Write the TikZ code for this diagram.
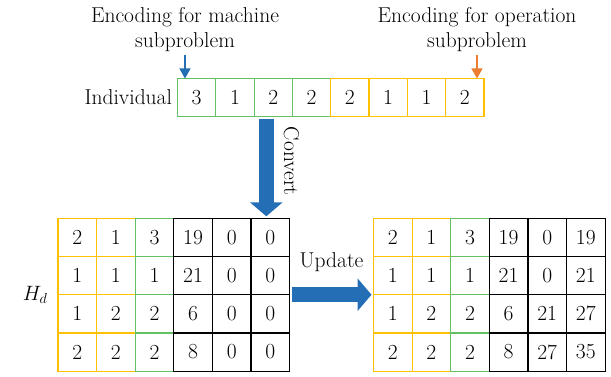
\documentclass[tikz,border=0pt]{standalone}
\usepackage{fontspec}
\usetikzlibrary{arrows.meta,positioning,calc}

\definecolor{cellgreen}{RGB}{100,192,100}
\definecolor{cellyellow}{RGB}{255,192,0}
\definecolor{arrowblue}{RGB}{36,110,182}
\definecolor{arroworange}{RGB}{237,125,49}

\begin{document}
\begin{tikzpicture}[x=1pt, y=-1pt, font=\fontsize{21.5}{25}\selectfont,
    cell/.style={draw=#1, line width=1.2pt, minimum width=38.6pt, minimum height=38.2pt, inner sep=0pt, outer sep=0pt},
    bigarrow/.style={draw=arrowblue, line width=15pt, -{Triangle[length=14pt, width=32pt]}, fill=arrowblue},
    pointer/.style={line width=1.2pt, -{Triangle[length=10pt, width=11pt]}}]
    \useasboundingbox (0,0) rectangle (611,377);

    % individual
    \foreach \v [count=\k] in {3,1,2,2}
        \node[cell=cellgreen, minimum width=38.3pt, minimum height=38pt] (i\k) at ({177.5+38.3*(\k-0.5)},97.5) {\v};
    \foreach \v [count=\k from 5] in {2,1,1,2}
        \node[cell=cellyellow, minimum width=38.3pt, minimum height=38pt] (i\k) at ({177.5+38.3*(\k-0.5)},97.5) {\v};
    \node[left=2pt of i1] (indiv) {Individual};

    \node[align=center] (mlab) at (185,29.6) {Encoding for machine\\subproblem};
    \node[align=center] (olab) at (477,29.6) {Encoding for operation\\subproblem};
    \draw[pointer, arrowblue] (mlab.south) -- (mlab.south |- i1.north);
    \draw[pointer, arroworange] (olab.south) -- (olab.south |- i8.north);

    % H_d before and after
    \foreach \row [count=\r] in {{2,1,3,19,0,0},{1,1,1,21,0,0},{1,2,2,6,0,0},{2,2,2,8,0,0}}
        \foreach \v [count=\c] in \row {
            \ifnum\c<3 \def\clr{cellyellow}\else\ifnum\c=3 \def\clr{cellgreen}\else\def\clr{black}\fi\fi
            \node[cell=\clr] (L-\r-\c) at ({58+38.6*(\c-0.5)},{218.3+38.2*(\r-0.5)}) {\v};
        }
    \foreach \row [count=\r] in {{2,1,3,19,0,19},{1,1,1,21,0,21},{1,2,2,6,21,27},{2,2,2,8,27,35}}
        \foreach \v [count=\c] in \row {
            \ifnum\c<3 \def\clr{cellyellow}\else\ifnum\c=3 \def\clr{cellgreen}\else\def\clr{black}\fi\fi
            \node[cell=\clr] (R-\r-\c) at ({373.5+38.6*(\c-0.5)},{218.3+38.2*(\r-0.5)}) {\v};
        }
    \node[anchor=east] (hd) at ([xshift=-7pt]L-2-1.south west) {$H_{\scriptstyle d}$};

    % convert
    \coordinate (ctop) at ([xshift=-4pt, yshift=-3pt]i3.south -| L-1-6.north);
    \coordinate (cend) at ([xshift=-4pt, yshift=2pt]L-1-6.north);
    \draw[bigarrow] (ctop) -- (cend);
    \node[rotate=-90, anchor=south] (convlab) at ($(ctop)!0.43!(cend)+(14,0)$) {Convert};

    % update
    \coordinate (ustart) at ([xshift=2pt]L-2-6.south east);
    \coordinate (uend) at ([xshift=-2pt]R-2-1.south west);
    \draw[bigarrow] (ustart) -- (uend);
    \node[anchor=south] (updlab) at ($(ustart)!0.5!(uend)+(0,-19)$) {Update};
\end{tikzpicture}
\end{document}
